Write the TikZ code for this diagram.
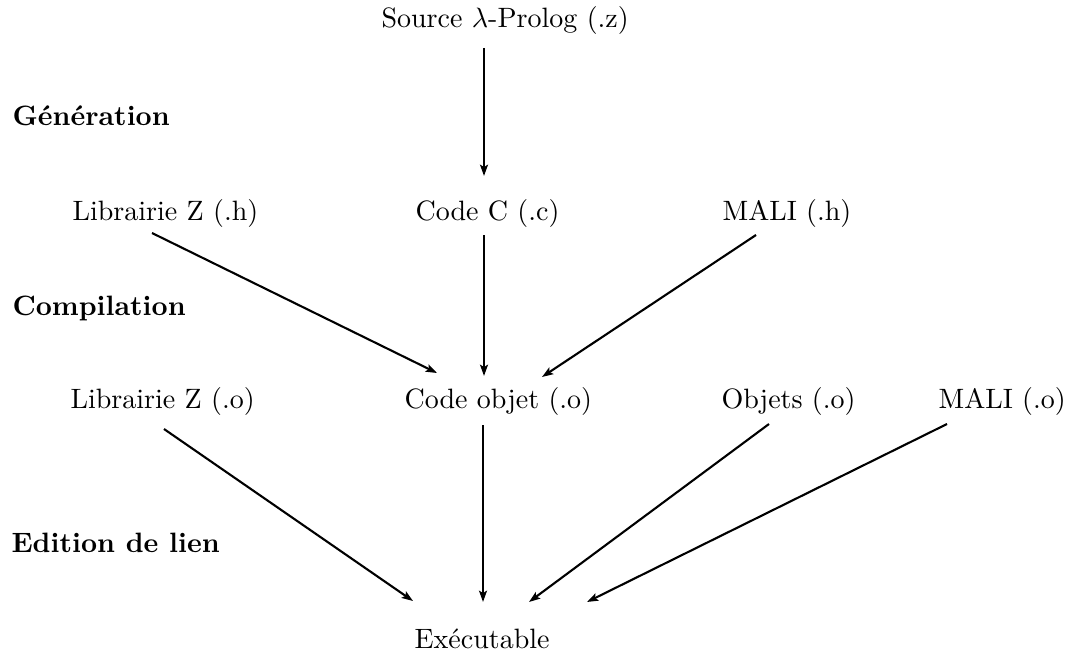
\documentclass[tikz,border=0pt]{standalone}
\usetikzlibrary{arrows.meta}
\begin{document}
\begin{tikzpicture}[x=0.357pt,y=-0.357pt,
  lbl/.style={anchor=base west, inner sep=0pt},
  stage/.style={lbl, font=\bfseries},
  arr/.style={line width=0.75pt, -{Stealth[length=4pt,width=2.8pt,inset=0.8pt]}},
  varr/.style={arr, line width=0.95pt}]
\useasboundingbox (0,0) rectangle (1067,652);
% stage labels
\node[stage] (gen) at (12,126) {Génération};
\node[stage] (comp) at (12,315) {Compilation};
\node[stage] (edit) at (11,552) {Edition de lien};
% nodes
\node[lbl] (src) at (381,28) {Source $\lambda$-Prolog (.z)};
\node[lbl] (lh) at (72,221) {Librairie Z (.h)};
\node[lbl] (cc) at (415,221) {Code C (.c)};
\node[lbl] (mh) at (722,221) {MALI (.h)};
\node[lbl] (lo) at (70,408) {Librairie Z (.o)};
\node[lbl] (co) at (404,408) {Code objet (.o)};
\node[lbl] (ob) at (721,408) {Objets (.o)};
\node[lbl] (mo) at (938,408) {MALI (.o)};
\node[lbl] (ex) at (414,648) {Exécutable};
% connectors
\draw[varr] ([shift={(103,20)}]src.base west) -- ([shift={(69,-45)}]cc.base west);
\draw[varr] ([shift={(69,14)}]cc.base west) -- ([shift={(80,-32)}]co.base west);
\draw[arr] ([shift={(80,12)}]lh.base west) -- ([shift={(33,-35)}]co.base west);
\draw[arr] ([shift={(34,14)}]mh.base west) -- ([shift={(138,-31)}]co.base west);
\draw[varr] ([shift={(79,17)}]co.base west) -- ([shift={(69,-46)}]ex.base west);
\draw[arr] ([shift={(94,21)}]lo.base west) -- ([shift={(-1,-47)}]ex.base west);
\draw[arr] ([shift={(48,16)}]ob.base west) -- ([shift={(115,-46)}]ex.base west);
\draw[arr] ([shift={(9,16)}]mo.base west) -- ([shift={(173,-46)}]ex.base west);
\end{tikzpicture}
\end{document}
